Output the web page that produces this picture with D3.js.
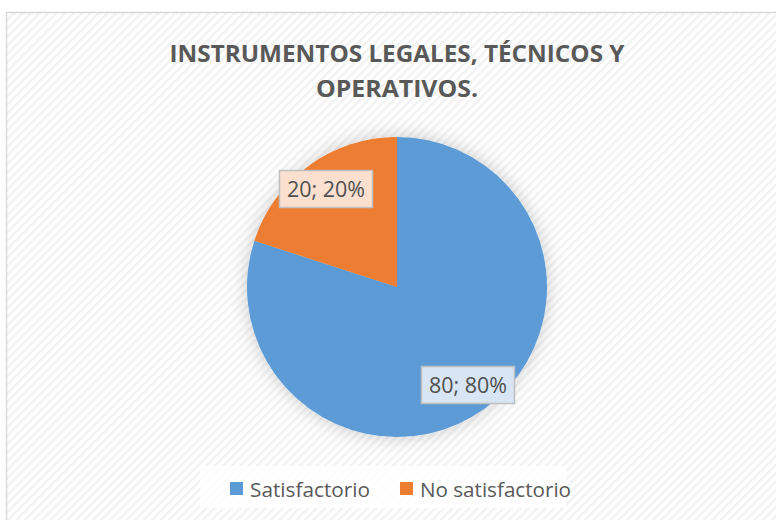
<!DOCTYPE html>
<html><head><meta charset="utf-8">
<script src="https://cdn.jsdelivr.net/npm/d3@7"></script>
<style>html,body{margin:0;padding:0;background:#fff;}svg{display:block;}</style>
</head><body>
<svg id="c" width="776" height="520"></svg>
<script>
const categories = ["Satisfactorio", "No satisfactorio"];
const values = [80, 20];
const percents = ["80%", "20%"];
const colors = ["#5B9BD5", "#ED7D31"];
const labelFills = ["#d7e5f4", "#fbe0d0"];
const titleLines = ["INSTRUMENTOS LEGALES, TÉCNICOS Y", "OPERATIVOS."];

const svg = d3.select("#c");
const defs = svg.append("defs");
const pat = defs.append("pattern").attr("id","stripes").attr("patternUnits","userSpaceOnUse")
  .attr("width",6).attr("height",6).attr("patternTransform","rotate(45)");
pat.append("rect").attr("width",6).attr("height",6).attr("fill","#ffffff");
pat.append("rect").attr("width",2.5).attr("height",6).attr("fill","#f2f2f2");

const glow = defs.append("filter").attr("id","glow").attr("x","-30%").attr("y","-30%").attr("width","160%").attr("height","160%");
glow.append("feGaussianBlur").attr("in","SourceAlpha").attr("stdDeviation",9).attr("result","b");
glow.append("feFlood").attr("flood-color","#000").attr("flood-opacity",0.2);
glow.append("feComposite").attr("in2","b").attr("operator","in").attr("result","s");
const fm = glow.append("feMerge");
fm.append("feMergeNode").attr("in","s");
fm.append("feMergeNode").attr("in","SourceGraphic");

// chart area
svg.append("rect").attr("x",6.5).attr("y",12.5).attr("width",790).attr("height",520)
  .attr("fill","url(#stripes)").attr("stroke","#d9d9d9").attr("stroke-width",1.5);

// title
const title = svg.append("g");
titleLines.forEach((t,i)=>{
  title.append("text").attr("x",397).attr("y",62 + i*35).attr("text-anchor","middle")
    .attr("font-family","Open Sans, Liberation Sans, sans-serif").attr("font-weight","bold")
    .attr("font-size",23).attr("fill","#595959").text(t)
    .attr("textLength", i===0 ? 455 : 162).attr("lengthAdjust","spacingAndGlyphs");
});

const cx = 397, cy = 287, r = 150;
const pie = d3.pie().sort(null).value(d=>d)(values);
const arc = d3.arc().innerRadius(0).outerRadius(r);
const g = svg.append("g").attr("transform",`translate(${cx},${cy})`);
g.append("g").attr("filter","url(#glow)").selectAll("path").data(pie).join("path")
  .attr("d",arc).attr("fill",(d,i)=>colors[i]);

// labels
const labelPos = [[468,385],[326,189]];
const lg = svg.append("g");
pie.forEach((d,i)=>{
  const [x,y] = labelPos[i];
  lg.append("rect").attr("x",x-46.5).attr("y",y-18.5).attr("width",93).attr("height",37)
    .attr("fill",labelFills[i]).attr("stroke","#bfbfbf").attr("stroke-width",1.5);
  lg.append("text").attr("x",x).attr("y",y+7.5).attr("text-anchor","middle")
    .attr("font-family","Open Sans, Liberation Sans, sans-serif").attr("font-size",21)
    .attr("fill","#505050").text(`${values[i]}; ${percents[i]}`)
    .attr("textLength",78).attr("lengthAdjust","spacingAndGlyphs");
});

// legend
const leg = svg.append("g");
leg.append("rect").attr("x",200).attr("y",466).attr("width",366).attr("height",42).attr("fill","#ffffff").attr("opacity",0.85);
const legX = [230, 400], legW = [120, 151];
categories.forEach((c,i)=>{
  leg.append("rect").attr("x",legX[i]).attr("y",482).attr("width",13).attr("height",13).attr("fill",colors[i]);
  leg.append("text").attr("x",legX[i]+20).attr("y",496.5).attr("font-family","Open Sans, Liberation Sans, sans-serif")
    .attr("font-size",20).attr("fill","#595959").text(c)
    .attr("textLength",legW[i]).attr("lengthAdjust","spacingAndGlyphs");
});
</script>
</body></html>
